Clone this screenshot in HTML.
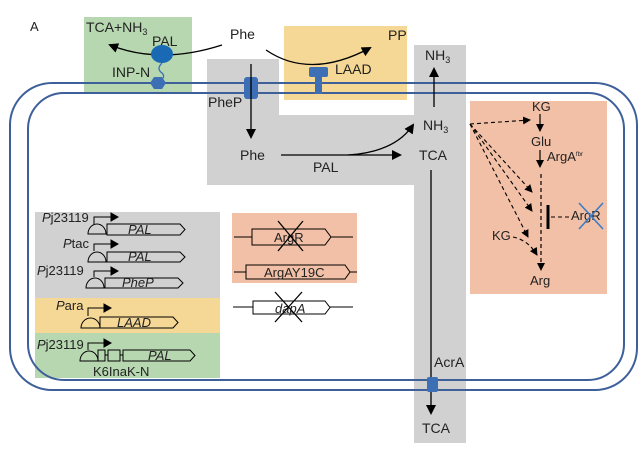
<!DOCTYPE html>
<html><head><meta charset="utf-8"><style>
html,body{margin:0;padding:0;background:#fff;}
svg{display:block;}
text{font-family:"Liberation Sans",Arial,sans-serif;fill:#222;}
</style></head><body>
<svg width="642" height="457" viewBox="0 0 642 457" xmlns="http://www.w3.org/2000/svg">
<defs>
<marker id="ah" markerWidth="10" markerHeight="10" refX="8" refY="5" orient="auto" markerUnits="userSpaceOnUse"><path d="M0,0 L10,5 L0,10 z" fill="#000"/></marker>
<marker id="as" markerWidth="8" markerHeight="8" refX="7" refY="4" orient="auto" markerUnits="userSpaceOnUse"><path d="M0,0 L8,4 L0,8 z" fill="#000"/></marker>
</defs>
<rect x="84" y="17" width="108" height="75" fill="#b7d7b0"/>
<rect x="284" y="26" width="123" height="74" fill="#f6d896"/>
<path d="M207,59 H279 V115 H414 V45 H466 V443 H414 V185 H207 Z" fill="#d1d1d1"/>
<rect x="470" y="101" width="137" height="193" fill="#f2c0a6"/>
<rect x="35" y="212" width="185" height="86" fill="#d1d1d1"/>
<rect x="35" y="298" width="185" height="35" fill="#f6d896"/>
<rect x="35" y="333" width="185" height="45" fill="#b7d7b0"/>
<rect x="232" y="213" width="125" height="70" fill="#f2c0a6"/>
<rect x="10" y="83" width="627" height="307" rx="42" fill="none" stroke="#3d5f9a" stroke-width="2"/>
<rect x="28" y="93" width="596" height="287" rx="36" fill="none" stroke="#3d5f9a" stroke-width="2"/>
<text x="30" y="31" font-size="13">A</text>
<g font-size="14">
<text x="230" y="39">Phe</text>
<text x="86" y="32">TCA+NH<tspan font-size="9" dy="3">3</tspan></text>
<text x="152" y="46">PAL</text>
<text x="112" y="77">INP-N</text>
<text x="388" y="40">PP</text>
<text x="335" y="74">LAAD</text>
<text x="208" y="107">PheP</text>
<text x="240" y="160">Phe</text>
<text x="313" y="172">PAL</text>
<text x="423" y="130">NH<tspan font-size="9" dy="3">3</tspan></text>
<text x="419" y="160">TCA</text>
<text x="425" y="60">NH<tspan font-size="9" dy="3">3</tspan></text>
<text x="434" y="367">AcrA</text>
<text x="422" y="433">TCA</text>
</g>
<path d="M222,45 Q160,65 110,45" fill="none" stroke="#000" stroke-width="1.3" marker-end="url(#ah)"/>
<ellipse cx="162" cy="54" rx="11" ry="9" fill="#1a69b5"/>
<path d="M162,63 q-6,6 0,10 q4,4 -2,8" fill="none" stroke="#3d6fb5" stroke-width="1.3"/>
<polygon points="150,83 154,77 162,77 166,83 162,89 154,89" fill="#3d6fb5"/>
<path d="M266,50 Q310,80 370,48" fill="none" stroke="#000" stroke-width="1.3" marker-end="url(#ah)"/>
<rect x="309" y="67" width="19" height="10" rx="2" fill="#3d6fb5"/>
<rect x="315" y="76" width="7" height="18" fill="#3d6fb5"/>
<rect x="244" y="77" width="14" height="22" rx="3" fill="#3d6fb5"/>
<path d="M251,64 V137" stroke="#000" stroke-width="1.3" marker-end="url(#ah)"/>
<path d="M281,155 H400" stroke="#000" stroke-width="1.3" marker-end="url(#ah)"/>
<path d="M348,155 Q395,152 413,125" fill="none" stroke="#000" stroke-width="1.3" marker-end="url(#ah)"/>
<path d="M434,107 V69" stroke="#000" stroke-width="1.3" marker-end="url(#ah)"/>
<path d="M431,170 V413" stroke="#000" stroke-width="1.3" marker-end="url(#ah)"/>
<rect x="427" y="377" width="11" height="15" rx="2" fill="#3d6fb5"/>
<g font-size="13">
<text x="532" y="111">KG</text>
<text x="531" y="146">Glu</text>
<text x="547" y="161">ArgA<tspan font-size="6" dy="-5">fbr</tspan></text>
<text x="492" y="240">KG</text>
<text x="530" y="285">Arg</text>
<text x="571" y="220">ArgR</text>
</g>
<path d="M540,114 V131" stroke="#000" stroke-width="1.2" marker-end="url(#as)"/>
<path d="M540,150 V167" stroke="#000" stroke-width="1.2" marker-end="url(#as)"/>
<path d="M541,174 V270" stroke="#000" stroke-width="1.2" stroke-dasharray="4,3" marker-end="url(#as)"/>
<g fill="none" stroke="#000" stroke-width="1.1" stroke-dasharray="4,3">
<path d="M470,124 L530,120" marker-end="url(#as)"/>
<path d="M470,124 L532,192" marker-end="url(#as)"/>
<path d="M470,124 L532,211" marker-end="url(#as)"/>
<path d="M470,124 L528,237" marker-end="url(#as)"/>
<path d="M513,237 Q528,240 537,255" marker-end="url(#as)"/>
<path d="M551,217 H570"/>
</g>
<path d="M548,205 V229" stroke="#000" stroke-width="3"/>
<path d="M579,203 L603,229 M603,203 L579,229" stroke="#3b7cc4" stroke-width="1.6"/>
<g stroke="#000" stroke-width="1" font-size="13">
<g font-style="italic" stroke="none">
<text x="42" y="222">P<tspan font-style="normal">j23119</tspan></text>
<text x="63" y="248">P<tspan font-style="normal">tac</tspan></text>
<text x="37" y="275">P<tspan font-style="normal">j23119</tspan></text>
<text x="56" y="310">P<tspan font-style="normal">ara</tspan></text>
<text x="37" y="349">P<tspan font-style="normal">j23119</tspan></text>
</g>
<path d="M94,224 V217 H112" fill="none"/><path d="M111,213 L118,217 L111,221 Z" fill="#000"/>
<path d="M88,234 A9,10 0 0 1 106,234 Z" fill="none"/>
<path d="M107,224 H180 L185,229.5 L180,235 H107 Z" fill="none"/>
<text x="128" y="234" font-style="italic" stroke="none">PAL</text>
<path d="M94,251 V244 H112" fill="none"/><path d="M111,240 L118,244 L111,248 Z" fill="#000"/>
<path d="M88,262 A9,10 0 0 1 106,262 Z" fill="none"/>
<path d="M107,252 H180 L185,257 L180,262 H107 Z" fill="none"/>
<text x="128" y="261" font-style="italic" stroke="none">PAL</text>
<path d="M94,277 V271 H112" fill="none"/><path d="M111,267 L118,271 L111,275 Z" fill="#000"/>
<path d="M86,288 A9,10 0 0 1 104,288 Z" fill="none"/>
<path d="M105,278 H178 L183,283 L178,288 H105 Z" fill="none"/>
<text x="122" y="287" font-style="italic" stroke="none">PheP</text>
<path d="M88,316 V308 H105" fill="none"/><path d="M104,304 L111,308 L104,312 Z" fill="#000"/>
<path d="M81,328 A9.5,10 0 0 1 100,328 Z" fill="none"/>
<path d="M100,317 H173 L178,322.5 L173,328 H100 Z" fill="none"/>
<text x="117" y="327" font-style="italic" stroke="none">LAAD</text>
<path d="M88,350 V343 H105" fill="none"/><path d="M104,339 L111,343 L104,347 Z" fill="#000"/>
<path d="M80,361 A9,10 0 0 1 98,361 Z" fill="none"/>
<rect x="98" y="350" width="7" height="11" fill="none"/>
<path d="M105,355 H108"/>
<rect x="108" y="350" width="12" height="11" fill="none"/>
<path d="M120,355 H123"/>
<path d="M123,350 H190 L195,355.5 L190,361 H123 Z" fill="none"/>
<text x="148" y="360" font-style="italic" stroke="none">PAL</text>
<text x="93" y="376" stroke="none">K6InaK-N</text>
<path d="M234,237 H252 M331,237 H353"/>
<path d="M252,229 H325 L331,237 L325,245 H252 Z" fill="none"/>
<text x="274" y="242" stroke="none">ArgR</text>
<path d="M278,221 L303,251 M303,221 L278,251" stroke-width="1.3"/>
<path d="M234,272 H246 M350,272 H357"/>
<path d="M246,265 H345 L350,272 L345,279 H246 Z" fill="none"/>
<text x="264" y="277" stroke="none">ArgAY19C</text>
<path d="M233,307 H253 M330,307 H353"/>
<path d="M253,301 H325 L330,307.5 L325,314 H253 Z" fill="none"/>
<text x="275" y="313" font-style="italic" stroke="none">dapA</text>
<path d="M275,292 L302,322 M302,292 L275,322" stroke-width="1.3"/>
</g>
</svg>
</body></html>
